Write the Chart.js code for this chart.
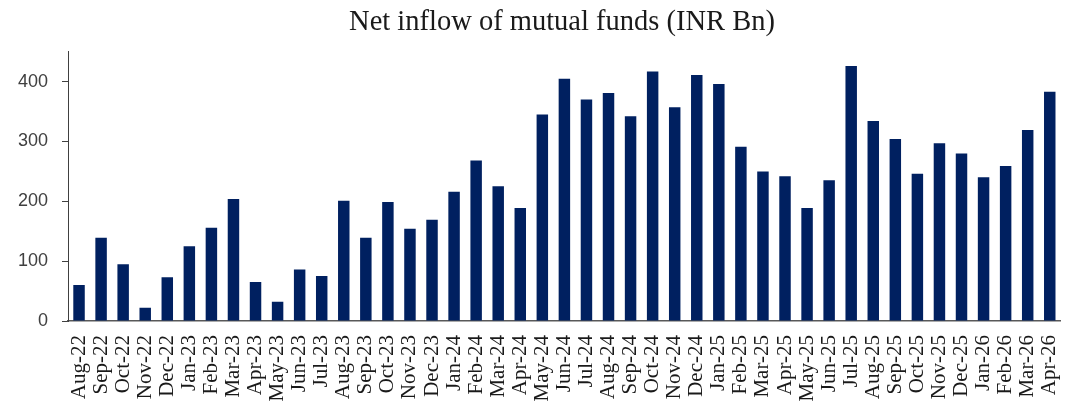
<!DOCTYPE html>
<html>
<head>
<meta charset="utf-8">
<script src="https://cdn.jsdelivr.net/npm/chart.js@4.4.1/dist/chart.umd.min.js"></script>
<style>
  html, body { margin: 0; padding: 0; background: #ffffff; }
  #wrap { width: 1089px; height: 407px; }
</style>
</head>
<body>
<div id="wrap"><canvas id="inflowChart" width="1089" height="407"></canvas></div>
<script>
// Months shown on the category axis
const months = [
    'Aug-22', 'Sep-22', 'Oct-22', 'Nov-22', 'Dec-22',
    'Jan-23', 'Feb-23', 'Mar-23', 'Apr-23', 'May-23', 'Jun-23', 'Jul-23', 'Aug-23', 'Sep-23', 'Oct-23', 'Nov-23', 'Dec-23',
    'Jan-24', 'Feb-24', 'Mar-24', 'Apr-24', 'May-24', 'Jun-24', 'Jul-24', 'Aug-24', 'Sep-24', 'Oct-24', 'Nov-24', 'Dec-24',
    'Jan-25', 'Feb-25', 'Mar-25', 'Apr-25', 'May-25', 'Jun-25', 'Jul-25', 'Aug-25', 'Sep-25', 'Oct-25', 'Nov-25', 'Dec-25',
    'Jan-26', 'Feb-26', 'Mar-26', 'Apr-26'
];

// Net inflow, INR Bn
const netInflow = [
    60, 139, 95, 22, 73,
    125, 156, 204, 65, 32, 86, 75, 201, 139, 199, 154, 169,
    216, 268, 225, 189, 345, 405, 370, 381, 342, 417, 357, 411,
    396, 291, 250, 242, 189, 235, 426, 334, 304, 246, 297, 280,
    240, 259, 319, 383
];

const yTicks = [0, 100, 200, 300, 400];

const chartTitle = 'Net inflow of mutual funds (INR Bn)';

// Title drawn by hand so it can sit a little right of the canvas centre, like the original
const titlePlugin = {
    id: 'offsetTitle',
    afterDraw(chart) {
        const c = chart.ctx;
        c.save();
        c.font = '28.5px "Liberation Serif"';
        c.fillStyle = '#1a1a1a';
        c.textAlign = 'center';
        c.textBaseline = 'alphabetic';
        c.fillText(chartTitle, 562, 30);
        c.restore();
    }
};

const ctx = document.getElementById('inflowChart').getContext('2d');

new Chart(ctx, {
    type: 'bar',
    data: {
        labels: months,
        datasets: [{
            label: 'Net inflow',
            data: netInflow,
            backgroundColor: '#002060',
            borderWidth: 0,
            barPercentage: 0.52,
            categoryPercentage: 1.0
        }]
    },
    plugins: [titlePlugin],
    options: {
        responsive: false,
        animation: false,
        layout: { padding: { left: 0, right: 4, top: 51.7, bottom: 0 } },
        plugins: {
            legend: { display: false },
            tooltip: { enabled: false },
            title: { display: false }
        },
        scales: {
            x: {
                grid: { display: false, drawTicks: false },
                border: { display: true, color: '#595959', width: 1.5 },
                ticks: {
                    autoSkip: false,
                    minRotation: 90,
                    maxRotation: 90,
                    padding: 14,
                    color: '#1a1a1a',
                    font: { family: 'Liberation Serif', size: 21 }
                },
                afterFit: (scale) => { scale.height = 86; }
            },
            y: {
                min: 0,
                max: 450,
                grid: {
                    drawOnChartArea: false,
                    drawTicks: true,
                    tickLength: 6,
                    color: '#404040'
                },
                border: { display: true, color: '#404040', width: 1 },
                ticks: {
                    stepSize: 100,
                    padding: 14,
                    color: '#404040',
                    font: { family: 'Liberation Sans', size: 18 }
                },
                afterBuildTicks: (scale) => {
                    scale.ticks = yTicks.map(v => ({ value: v }));
                },
                afterFit: (scale) => { scale.width = 68; }
            }
        }
    }
});
</script>
</body>
</html>
